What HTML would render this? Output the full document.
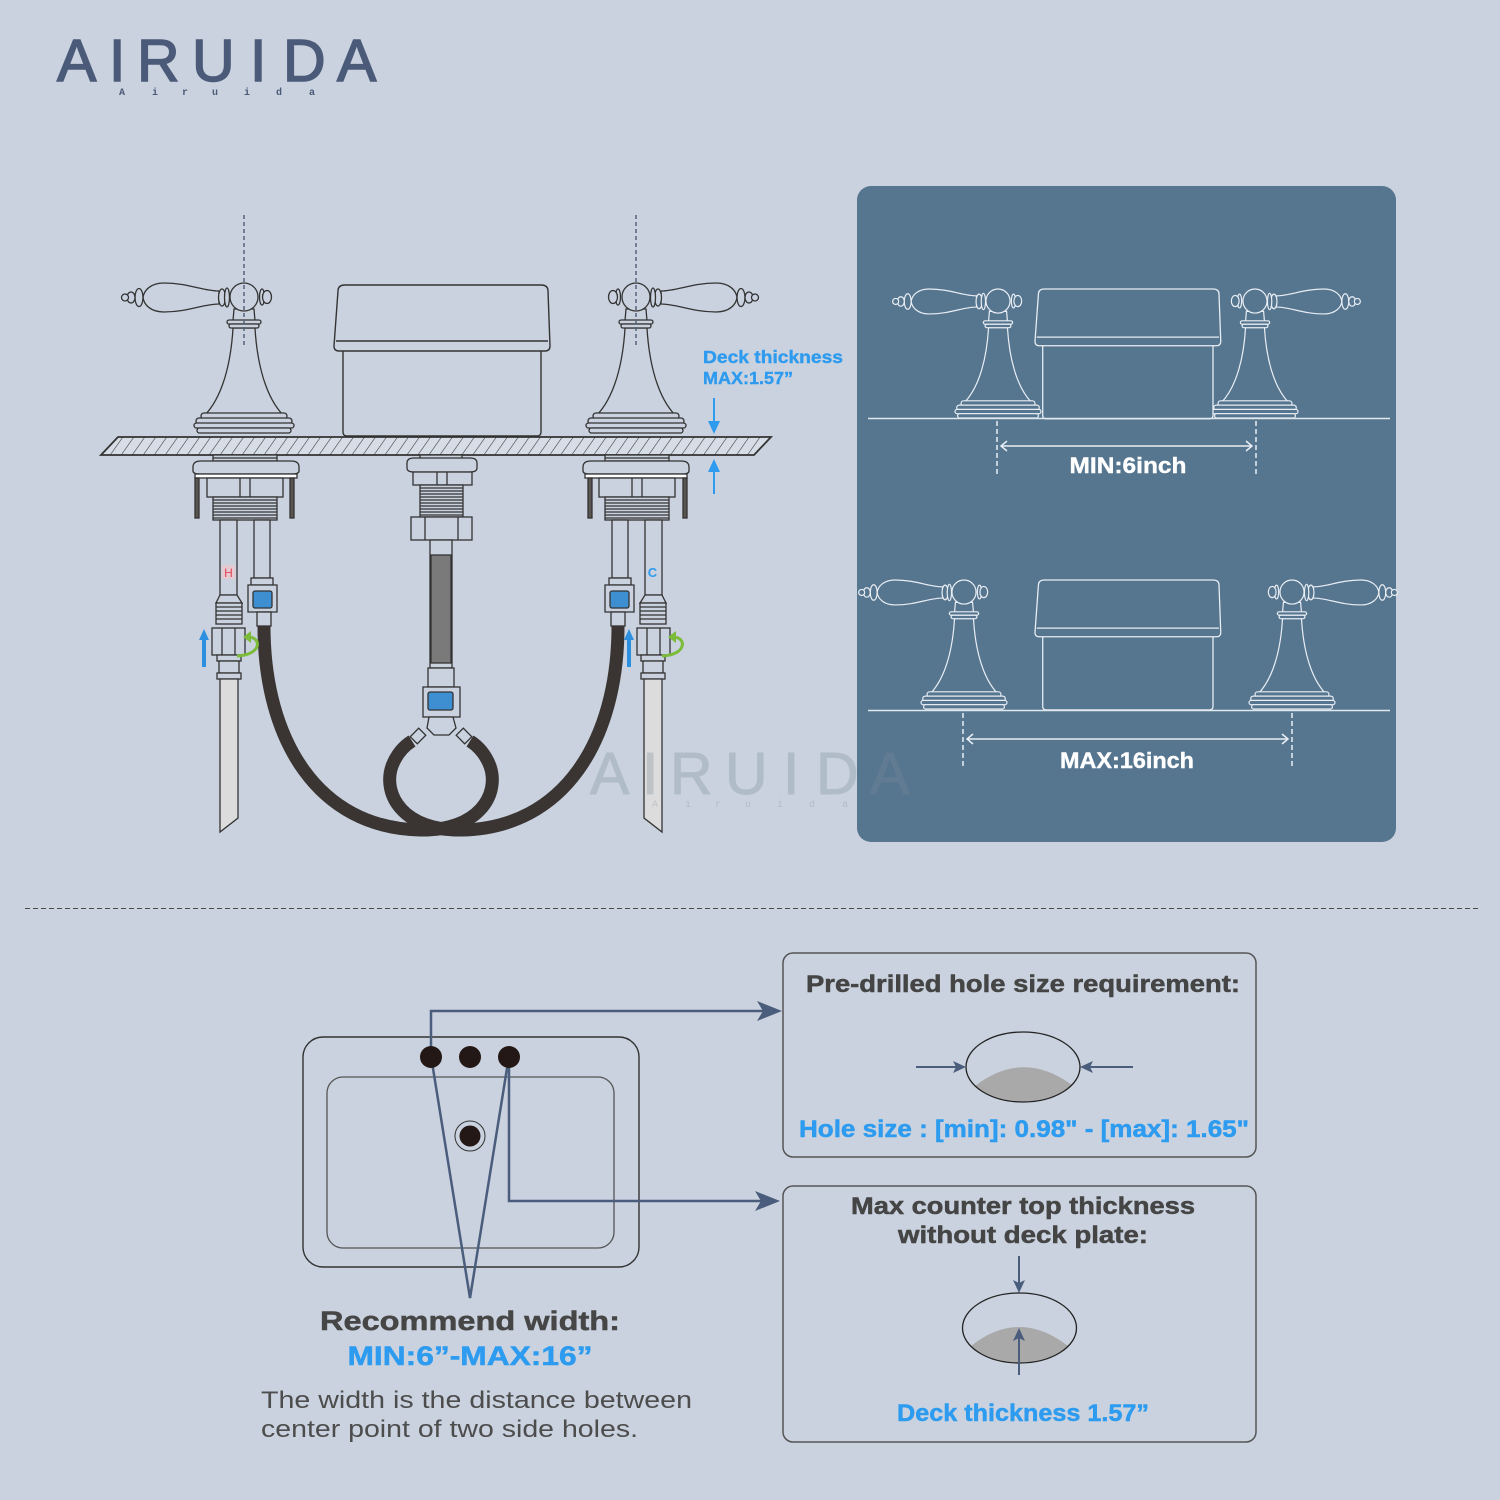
<!DOCTYPE html>
<html><head><meta charset="utf-8"><style>
html,body{margin:0;padding:0;background:#c9d2de;}
svg{display:block}
</style></head><body>
<svg width="1500" height="1500" viewBox="0 0 1500 1500" xmlns="http://www.w3.org/2000/svg" xmlns:xlink="http://www.w3.org/1999/xlink" font-family="'Liberation Sans', sans-serif">
<defs>
<pattern id="hatch" width="9" height="9" patternUnits="userSpaceOnUse" patternTransform="rotate(35)">
<line x1="0" y1="-1" x2="0" y2="10" stroke="#333" stroke-width="1.1"/>
</pattern>
<g id="fau">
 <path d="M219 291 C203 291 188 283 164 283 C151 283 144 290 143 297.5 C144 305 151 312 164 312 C188 312 203 304 219 304 Z"/>
 <ellipse cx="139" cy="297.5" rx="4" ry="9"/>
 <ellipse cx="131" cy="297.5" rx="4" ry="5.5"/>
 <circle cx="125" cy="297.5" r="3.5"/>
 <ellipse cx="222" cy="297.5" rx="3.5" ry="8.5"/>
 <ellipse cx="227" cy="297.5" rx="2.5" ry="9.5"/>
 <path d="M234 309 L233 321 L255 321 L254 309 Z"/>
 <circle cx="244" cy="297" r="14"/>
 <ellipse cx="262" cy="297" rx="2.5" ry="8"/>
 <ellipse cx="267" cy="297" rx="4.5" ry="6.5"/>
 <path d="M233 328 C231 362 223 396 205 415 L283 415 C265 396 257 362 255 328 Z"/>
 <rect x="227" y="320" width="34" height="4" rx="2"/>
 <rect x="229" y="324" width="30" height="4" rx="2"/>
 <rect x="201" y="413" width="86" height="6" rx="3"/>
 <rect x="196" y="418" width="96" height="6" rx="3"/>
 <rect x="194" y="423" width="100" height="5" rx="2.5"/>
 <rect x="197" y="428" width="94" height="5" rx="2.5"/>
</g>
<g id="spout">
 <path d="M343 350 L343 432 Q343 436 347 436 L537 436 Q541 436 541 432 L541 350 Z"/>
 <path d="M334 346 L338 291 Q338 285 345 285 L541 285 Q548 285 548 291 L550 346 Q550 351 545 351 L339 351 Q334 351 334 346 Z"/>
 <path d="M336 341 L548 341" fill="none"/>
</g>
<g id="under" stroke="#333" stroke-width="1.3" fill="#c9d2de">
 <rect x="213" y="455" width="64" height="6"/>
 <line x1="213" y1="458" x2="277" y2="458"/>
 <path d="M193 467 Q193 461 201 461 L291 461 Q299 461 299 467 L299 471 Q299 474 292 474 L200 474 Q193 474 193 471 Z"/>
 <rect x="195" y="474" width="102" height="4" fill="#ffffff"/>
 <rect x="207" y="478" width="76" height="19"/>
 <line x1="240" y1="478" x2="240" y2="497"/>
 <line x1="250" y1="478" x2="250" y2="497"/>
 <rect x="195" y="478" width="4" height="40" fill="#5a5550"/>
 <rect x="290" y="478" width="4" height="40" fill="#5a5550"/>
 <rect x="213" y="497" width="64" height="23"/>
 <path d="M213 500H277M213 503H277M213 506H277M213 509H277M213 512H277M213 515H277M213 518H277" fill="none"/>
 <rect x="220" y="520" width="17" height="75"/>
 <rect x="254" y="520" width="16" height="58"/>
 <path d="M220 595 L216 603 L242 603 L237 595 Z"/>
 <rect x="216" y="603" width="26" height="21"/>
 <path d="M216 607H242M216 611H242M216 615H242M216 619H242" fill="none"/>
 <rect x="212" y="628" width="33" height="27"/>
 <line x1="222" y1="628" x2="222" y2="655"/><line x1="235" y1="628" x2="235" y2="655"/>
 <rect x="217" y="655" width="24" height="6"/>
 <rect x="219" y="661" width="20" height="12"/>
 <rect x="217" y="673" width="24" height="6"/>
 <path d="M220 679 L238 679 L238 818 L220 832 Z" fill="#dcdcdc"/>
 <rect x="251" y="578" width="22" height="7"/>
 <path d="M248 585 L277 585 L277 612 L248 612 Z"/>
 <rect x="253" y="591" width="19" height="17" rx="2" fill="#3d8fd1"/>
 <rect x="257" y="612" width="14" height="14"/>
</g>
</defs>

<rect width="1500" height="1500" fill="#c9d2de"/>

<!-- Logo -->
<text x="57 109 137 192 250 283 337" y="81" font-size="59" fill="#4b5a79" stroke="#4b5a79" stroke-width="1.5">AIRUIDA</text>
<text x="119 152 182 212 244 276 309" y="95" font-size="10" font-weight="bold" font-family="'Liberation Mono', monospace" fill="#4b5a79">Airuida</text>

<!-- Main faucet diagram -->
<use xlink:href="#fau" fill="#c9d2de" stroke="#333" stroke-width="1.3"/>
<use xlink:href="#fau" transform="translate(880,0) scale(-1,1)" fill="#c9d2de" stroke="#333" stroke-width="1.3"/>
<use xlink:href="#spout" fill="#c9d2de" stroke="#333" stroke-width="1.4"/>

<line x1="244" y1="215" x2="244" y2="345" stroke="#55627a" stroke-width="1.5" stroke-dasharray="4 3"/>
<line x1="636" y1="215" x2="636" y2="345" stroke="#55627a" stroke-width="1.5" stroke-dasharray="4 3"/>

<!-- Deck -->
<polygon points="118,437 771,437 754,455 101,455" fill="#d6dde6"/>
<polygon points="118,437 771,437 754,455 101,455" fill="url(#hatch)" stroke="#333" stroke-width="1.8"/>

<!-- Under deck -->
<use xlink:href="#under"/>
<use xlink:href="#under" transform="translate(882,0) scale(-1,1)"/>

<!-- Hoses -->
<path d="M264 626 C264 740 318 828 420 830 C478 831 500 795 490 766 C485 753 478 746 470 741" fill="none" stroke="#3a3533" stroke-width="13"/>
<path d="M618 626 C618 740 564 828 462 830 C404 831 382 795 392 766 C397 753 404 746 412 741" fill="none" stroke="#3a3533" stroke-width="13"/>

<!-- Center assembly -->
<g stroke="#333" stroke-width="1.3" fill="#c9d2de">
 <rect x="420" y="455" width="42" height="4"/>
 <path d="M407 463 Q407 458 414 458 L470 458 Q477 458 477 463 L477 468 Q477 472 470 472 L414 472 Q407 472 407 468Z"/>
 <rect x="413" y="472" width="59" height="13"/>
 <line x1="437" y1="472" x2="437" y2="485"/><line x1="447" y1="472" x2="447" y2="485"/>
 <rect x="420" y="485" width="43" height="32"/>
 <path d="M420 488H463M420 491H463M420 494H463M420 497H463M420 500H463M420 503H463M420 506H463M420 509H463M420 512H463M420 515H463" fill="none"/>
 <rect x="411" y="517" width="61" height="23"/>
 <line x1="425" y1="517" x2="425" y2="540"/><line x1="458" y1="517" x2="458" y2="540"/>
 <rect x="430" y="540" width="22" height="128"/>
 <rect x="431" y="555" width="20" height="108" fill="#7a7a7a"/>
 <rect x="428" y="668" width="26" height="19"/>
 <rect x="423" y="687" width="37" height="30"/>
 <rect x="428" y="692" width="25" height="18" rx="2" fill="#3d8fd1"/>
 <path d="M429 717 L453 717 L456 728 L449 735 L434 735 L427 728 Z"/>
 <rect x="-6" y="-5" width="12" height="10" transform="translate(418,736) rotate(-45)"/>
 <rect x="-6" y="-5" width="12" height="10" transform="translate(464,736) rotate(45)"/>
</g>

<!-- H / C labels -->
<rect x="222" y="565" width="13" height="14" fill="#f4c6cc" opacity="0.7"/>
<text x="228.5" y="577" font-size="12" fill="#e0465a" text-anchor="middle">H</text>
<text x="652.5" y="577" font-size="13" font-weight="bold" fill="#2d9bef" text-anchor="middle">C</text>

<!-- blue & green arrows -->
<g id="arr">
 <line x1="204" y1="667" x2="204" y2="638" stroke="#2d8fe0" stroke-width="4"/>
 <polygon points="204,629 199,640 209,640" fill="#2d8fe0"/>
 <path d="M237 656 C262 655 262 637 248 637" fill="none" stroke="#7cbc3a" stroke-width="3"/>
 <polygon points="243,637 251,631 251,643" fill="#7cbc3a"/>
</g>
<use xlink:href="#arr" transform="translate(425,0)"/>

<!-- Deck thickness -->
<g fill="#2f9bef" stroke="#2f9bef" stroke-width="0.4" font-weight="bold" font-size="17.5">
<text x="703" y="363" textLength="140" lengthAdjust="spacingAndGlyphs">Deck thickness</text>
<text x="703" y="384" textLength="90" lengthAdjust="spacingAndGlyphs">MAX:1.57”</text>
</g>
<line x1="714" y1="398" x2="714" y2="424" stroke="#2f9bef" stroke-width="2"/>
<polygon points="714,434 708,421 720,421" fill="#2f9bef"/>
<line x1="714" y1="494" x2="714" y2="469" stroke="#2f9bef" stroke-width="2"/>
<polygon points="714,459 708,472 720,472" fill="#2f9bef"/>

<!-- Right panel -->
<rect x="857" y="186" width="539" height="656" rx="14" fill="#56758f"/>
<g>
<use xlink:href="#fau" transform="translate(998,418) scale(0.86) translate(-244,-433)" fill="#56758f" stroke="#e8eef4" stroke-width="1.4"/>
<use xlink:href="#fau" transform="translate(1255,418) scale(-0.86,0.86) translate(-244,-433)" fill="#56758f" stroke="#e8eef4" stroke-width="1.4"/>
<use xlink:href="#spout" transform="translate(1127,418) scale(0.86) translate(-441,-435)" fill="#56758f" stroke="#e8eef4" stroke-width="1.5"/>
<line x1="868" y1="418.5" x2="1390" y2="418.5" stroke="#e0e7ee" stroke-width="1.5"/>
<line x1="997" y1="421" x2="997" y2="476" stroke="#e8eef4" stroke-width="1.5" stroke-dasharray="5 3"/>
<line x1="1256" y1="421" x2="1256" y2="476" stroke="#e8eef4" stroke-width="1.5" stroke-dasharray="5 3"/>
<line x1="1001" y1="446" x2="1252" y2="446" stroke="#e8eef4" stroke-width="1.5"/>
<path d="M1007 441 L1001 446 L1007 451 M1246 441 L1252 446 L1246 451" fill="none" stroke="#e8eef4" stroke-width="1.5"/>
<text x="1128" y="473" text-anchor="middle" font-size="22" font-weight="bold" fill="#ffffff" stroke="#ffffff" stroke-width="0.4" textLength="117" lengthAdjust="spacingAndGlyphs">MIN:6inch</text>

<use xlink:href="#fau" transform="translate(964,709) scale(0.86) translate(-244,-433)" fill="#56758f" stroke="#e8eef4" stroke-width="1.4"/>
<use xlink:href="#fau" transform="translate(1292,709) scale(-0.86,0.86) translate(-244,-433)" fill="#56758f" stroke="#e8eef4" stroke-width="1.4"/>
<use xlink:href="#spout" transform="translate(1127,709) scale(0.86) translate(-441,-435)" fill="#56758f" stroke="#e8eef4" stroke-width="1.5"/>
<line x1="868" y1="710.5" x2="1390" y2="710.5" stroke="#e0e7ee" stroke-width="1.5"/>
<line x1="963" y1="713" x2="963" y2="767" stroke="#e8eef4" stroke-width="1.5" stroke-dasharray="5 3"/>
<line x1="1292" y1="713" x2="1292" y2="767" stroke="#e8eef4" stroke-width="1.5" stroke-dasharray="5 3"/>
<line x1="967" y1="739" x2="1288" y2="739" stroke="#e8eef4" stroke-width="1.5"/>
<path d="M973 734 L967 739 L973 744 M1282 734 L1288 739 L1282 744" fill="none" stroke="#e8eef4" stroke-width="1.5"/>
<text x="1127" y="768" text-anchor="middle" font-size="22" font-weight="bold" fill="#ffffff" stroke="#ffffff" stroke-width="0.4" textLength="134" lengthAdjust="spacingAndGlyphs">MAX:16inch</text>
</g>

<!-- Watermark -->
<g fill="#7d8b9c" opacity="0.3">
<text x="590 642 670 725 783 816 870" y="794" font-size="59" stroke="#7d8b9c" stroke-width="1">AIRUIDA</text>
<text x="652 685 715 745 777 809 842" y="807" font-size="10" font-family="'Liberation Mono', monospace">Airuida</text>
</g>

<!-- Separator -->
<line x1="25" y1="908.5" x2="1480" y2="908.5" stroke="#4a4a4a" stroke-width="1" stroke-dasharray="5 3"/>

<!-- Sink -->
<rect x="303" y="1037" width="336" height="230" rx="20" fill="none" stroke="#333" stroke-width="1.4"/>
<rect x="327" y="1077" width="287" height="171" rx="16" fill="none" stroke="#555" stroke-width="1.3"/>
<circle cx="470" cy="1136" r="15" fill="none" stroke="#333" stroke-width="1"/>
<circle cx="470" cy="1136" r="10.5" fill="#231815"/>

<g stroke="#4a5d7c" stroke-width="2.5" fill="none">
 <path d="M431 1056 L431 1011 L765 1011"/>
 <path d="M509 1056 L509 1201 L763 1201"/>
 <path d="M431 1056 L470 1298 L509 1056"/>
</g>
<polygon points="782,1011 757,1001 763,1011 757,1021" fill="#4a5d7c"/>
<polygon points="780,1201 755,1191 761,1201 755,1211" fill="#4a5d7c"/>
<circle cx="431" cy="1057" r="11" fill="#231815"/>
<circle cx="470" cy="1057" r="11" fill="#231815"/>
<circle cx="509" cy="1057" r="11" fill="#231815"/>

<text x="470" y="1330" text-anchor="middle" font-size="27" font-weight="bold" fill="#464646" stroke="#464646" stroke-width="0.5" textLength="300" lengthAdjust="spacingAndGlyphs">Recommend width:</text>
<text x="470" y="1365" text-anchor="middle" font-size="27" font-weight="bold" fill="#2d9bef" stroke="#2d9bef" stroke-width="0.5" textLength="245" lengthAdjust="spacingAndGlyphs">MIN:6”-MAX:16”</text>
<text x="261" y="1408" font-size="24" fill="#4d4d4d" textLength="431" lengthAdjust="spacingAndGlyphs">The width is the distance between</text>
<text x="261" y="1437" font-size="24" fill="#4d4d4d" textLength="377" lengthAdjust="spacingAndGlyphs">center point of two side holes.</text>

<!-- Box 1 -->
<rect x="783" y="953" width="473" height="204" rx="10" fill="none" stroke="#555" stroke-width="1.5"/>
<text x="1023" y="992" text-anchor="middle" font-size="24" font-weight="bold" fill="#454545" stroke="#454545" stroke-width="0.5" textLength="434" lengthAdjust="spacingAndGlyphs">Pre-drilled hole size requirement:</text>
<path d="M975 1086 Q1023 1049 1072 1085 A57 35 0 0 1 975 1086 Z" fill="#a9a9a9"/>
<ellipse cx="1023" cy="1067" rx="57" ry="35" fill="none" stroke="#222" stroke-width="1.3"/>
<line x1="916" y1="1067" x2="957" y2="1067" stroke="#4a5d7c" stroke-width="2"/>
<polygon points="966,1067 953,1061 956,1067 953,1073" fill="#4a5d7c"/>
<line x1="1133" y1="1067" x2="1089" y2="1067" stroke="#4a5d7c" stroke-width="2"/>
<polygon points="1080,1067 1093,1061 1090,1067 1093,1073" fill="#4a5d7c"/>
<text x="1024" y="1137" text-anchor="middle" font-size="24" font-weight="bold" fill="#2d9bef" stroke="#2d9bef" stroke-width="0.5" textLength="450" lengthAdjust="spacingAndGlyphs">Hole size : [min]: 0.98&quot; - [max]: 1.65&quot;</text>

<!-- Box 2 -->
<rect x="783" y="1186" width="473" height="256" rx="10" fill="none" stroke="#555" stroke-width="1.5"/>
<text x="1023" y="1214" text-anchor="middle" font-size="24" font-weight="bold" fill="#454545" stroke="#454545" stroke-width="0.5" textLength="344" lengthAdjust="spacingAndGlyphs">Max counter top thickness</text>
<text x="1023" y="1243" text-anchor="middle" font-size="24" font-weight="bold" fill="#454545" stroke="#454545" stroke-width="0.5" textLength="250" lengthAdjust="spacingAndGlyphs">without deck plate:</text>
<path d="M971 1346 Q1019 1308 1068 1346 A57 35 0 0 1 971 1346 Z" fill="#a9a9a9"/>
<ellipse cx="1019.5" cy="1328" rx="57" ry="35" fill="none" stroke="#222" stroke-width="1.3"/>
<line x1="1019" y1="1256" x2="1019" y2="1283" stroke="#4a5d7c" stroke-width="2"/>
<polygon points="1019,1293 1013,1280 1019,1283 1025,1280" fill="#4a5d7c"/>
<line x1="1019" y1="1375" x2="1019" y2="1338" stroke="#4a5d7c" stroke-width="2"/>
<polygon points="1019,1328 1013,1341 1019,1338 1025,1341" fill="#4a5d7c"/>
<text x="1023" y="1421" text-anchor="middle" font-size="24" font-weight="bold" fill="#2d9bef" stroke="#2d9bef" stroke-width="0.5" textLength="252" lengthAdjust="spacingAndGlyphs">Deck thickness 1.57”</text>
</svg>
</body></html>
